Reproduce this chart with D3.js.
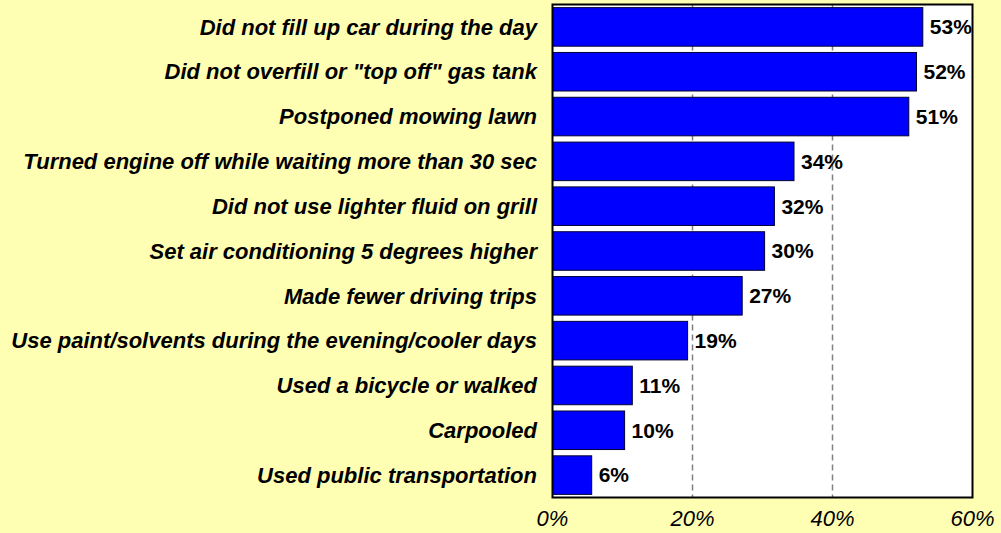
<!DOCTYPE html>
<html>
<head>
<meta charset="utf-8">
<script src="https://cdn.jsdelivr.net/npm/d3@7"></script>
<style>
  body { margin: 0; background: #ffffb3; }
  svg { display: block; }
</style>
</head>
<body>
<div id="chart"></div>
<script>
// data
const categories = [
  "Did not fill up car during the day",
  "Did not overfill or \"top off\" gas tank",
  "Postponed mowing lawn",
  "Turned engine off while waiting more than 30 sec",
  "Did not use lighter fluid on grill",
  "Set air conditioning 5 degrees higher",
  "Made fewer driving trips",
  "Use paint/solvents during the evening/cooler days",
  "Used a bicycle or walked",
  "Carpooled",
  "Used public transportation"
];
const values = [52.9, 52.0, 50.9, 34.5, 31.7, 30.3, 27.1, 19.3, 11.4, 10.3, 5.6];
const valueLabels = ["53%", "52%", "51%", "34%", "32%", "30%", "27%", "19%", "11%", "10%", "6%"];
const xTicks = [0, 20, 40, 60];
const gridTicks = [20, 40];

const width = 1001, height = 533;
const margin = {top: 4.5, right: 28.5, bottom: 35.5, left: 552.5};

const svg = d3.select("#chart").append("svg")
    .attr("width", width)
    .attr("height", height);

svg.append("rect")
    .attr("width", width).attr("height", height)
    .attr("fill", "#ffffb3");

const x = d3.scaleLinear().domain([0, 60]).range([margin.left, width - margin.right]);
const y = d3.scaleBand().domain(categories)
    .range([margin.top, height - margin.bottom])
    .paddingInner(0.14).paddingOuter(0.07);

// plot area
svg.append("rect")
    .attr("x", x(0)).attr("y", margin.top)
    .attr("width", x(60) - x(0)).attr("height", height - margin.bottom - margin.top)
    .attr("fill", "#ffffff");

// dashed gridlines
svg.append("g")
  .selectAll("line")
  .data(gridTicks)
  .enter().append("line")
    .attr("x1", d => x(d)).attr("x2", d => x(d))
    .attr("y1", margin.top).attr("y2", height - margin.bottom)
    .attr("stroke", "#808080")
    .attr("stroke-width", 1.5)
    .attr("stroke-dasharray", "6,4");

// bars
svg.append("g")
  .selectAll("rect")
  .data(values)
  .enter().append("rect")
    .attr("x", x(0))
    .attr("y", (d, i) => y(categories[i]))
    .attr("width", d => x(d) - x(0))
    .attr("height", y.bandwidth())
    .attr("fill", "#0000ff")
    .attr("stroke", "#000033")
    .attr("stroke-width", 1);

// value labels
svg.append("g")
  .selectAll("text")
  .data(values)
  .enter().append("text")
    .attr("x", d => x(d) + 7)
    .attr("y", (d, i) => y(categories[i]) + y.bandwidth() / 2)
    .attr("dy", "0.35em")
    .attr("font-family", "Liberation Sans, Arial, sans-serif")
    .attr("font-weight", "bold")
    .attr("font-size", 21)
    .attr("fill", "#000")
    .text((d, i) => valueLabels[i]);

// category labels
svg.append("g")
  .selectAll("text")
  .data(categories)
  .enter().append("text")
    .attr("x", 537)
    .attr("y", d => y(d) + y.bandwidth() / 2)
    .attr("dy", "0.35em")
    .attr("text-anchor", "end")
    .attr("font-family", "Liberation Sans, Arial, sans-serif")
    .attr("font-weight", "bold")
    .attr("font-style", "italic")
    .attr("font-size", 22)
    .attr("fill", "#000")
    .text(d => d);

// plot border
svg.append("rect")
    .attr("x", x(0)).attr("y", margin.top)
    .attr("width", x(60) - x(0)).attr("height", height - margin.bottom - margin.top)
    .attr("fill", "none")
    .attr("stroke", "#000")
    .attr("stroke-width", 2);

// x axis tick labels
svg.append("g")
  .selectAll("text")
  .data(xTicks)
  .enter().append("text")
    .attr("x", d => x(d))
    .attr("y", 526)
    .attr("text-anchor", "middle")
    .attr("font-family", "Liberation Sans, Arial, sans-serif")
    .attr("font-style", "italic")
    .attr("font-size", 22)
    .attr("fill", "#000")
    .text(d => d + "%");
</script>
</body>
</html>
